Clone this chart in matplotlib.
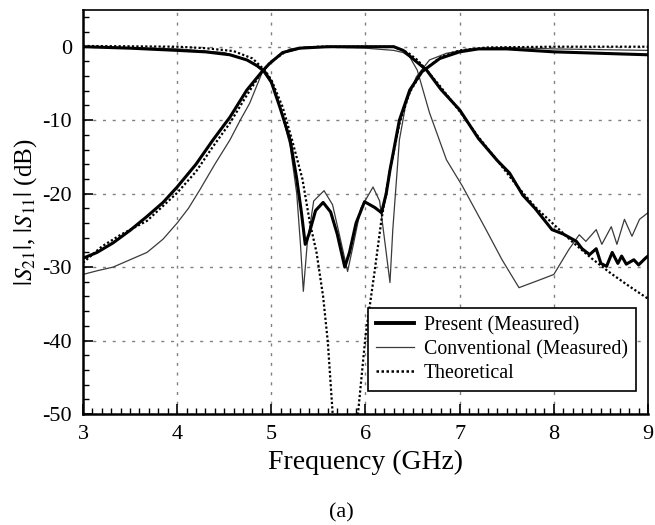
import matplotlib
matplotlib.use('Agg')
import matplotlib.pyplot as plt
from matplotlib.ticker import MultipleLocator
from matplotlib.lines import Line2D

plt.rcParams['font.family'] = ['Liberation Serif', 'DejaVu Serif']
plt.rcParams['mathtext.fontset'] = 'stix'
plt.rcParams['axes.unicode_minus'] = False

# |S21| present (measured)
pres_s21_f = [3.0, 3.15, 3.32, 3.5, 3.68, 3.85, 4.0, 4.2, 4.38, 4.56, 4.74, 4.9, 4.98, 5.12, 5.3,
              5.6, 6.0, 6.3, 6.4, 6.5, 6.65, 6.8, 7.0, 7.2, 7.4, 7.53, 7.67, 7.8, 7.98, 8.1,
              8.24, 8.3, 8.38, 8.45, 8.5, 8.56, 8.62, 8.68, 8.72, 8.77, 8.85, 8.9, 8.98, 9.0]
pres_s21_db = [-28.8, -28.0, -26.7, -25.0, -23.1, -21.2, -19.1, -16.0, -12.7, -9.6, -5.9, -3.4, -2.3, -0.8, -0.2,
               0.0, 0.0, 0.0, -0.5, -1.6, -3.2, -5.8, -8.6, -12.5, -15.5, -17.2, -20.2, -22.0, -24.9, -25.5,
               -26.5, -27.5, -28.3, -27.5, -29.5, -29.9, -28.0, -29.5, -28.5, -29.6, -29.0, -29.7, -28.7, -28.5]

# |S11| present (measured)
pres_s11_f = [3.0, 3.5, 4.0, 4.3, 4.56, 4.74, 4.85, 4.93, 5.0, 5.09, 5.2, 5.27, 5.32, 5.36, 5.4,
              5.47, 5.55, 5.63, 5.7, 5.78, 5.83, 5.9, 5.99, 6.1, 6.17, 6.22, 6.26, 6.36, 6.47, 6.6,
              6.79, 7.0, 7.2, 7.5, 8.0, 8.5, 9.0]
pres_s11_db = [0.0, -0.2, -0.5, -0.7, -1.1, -1.8, -2.6, -3.4, -4.8, -8.2, -12.7, -18.0, -22.6, -26.9, -25.5,
               -22.3, -21.2, -22.5, -25.5, -30.0, -28.0, -24.0, -21.1, -21.9, -22.6, -20.0, -16.8, -10.0, -5.9, -3.4,
               -1.6, -0.7, -0.3, -0.3, -0.7, -0.9, -1.1]

# |S21| conventional (measured)
conv_s21_f = [3.0, 3.15, 3.32, 3.5, 3.68, 3.85, 4.0, 4.12, 4.24, 4.4, 4.56, 4.67, 4.77, 4.9, 5.0,
              5.1, 5.2, 5.4, 6.0, 6.3, 6.4, 6.47, 6.55, 6.68, 6.86, 7.03, 7.28, 7.45, 7.63, 7.9,
              8.0, 8.16, 8.27, 8.34, 8.45, 8.51, 8.61, 8.67, 8.75, 8.83, 8.91, 9.0]
conv_s21_db = [-31.0, -30.5, -30.0, -29.0, -28.0, -26.2, -24.0, -22.0, -19.5, -16.0, -12.7, -10.0, -7.7, -3.6, -2.0,
               -1.0, -0.3, 0.0, -0.2, -0.5, -0.8, -1.4, -3.2, -9.0, -15.4, -19.0, -24.9, -29.0, -32.8, -31.5,
               -31.0, -27.6, -25.6, -26.5, -24.9, -26.9, -24.5, -26.9, -23.5, -25.8, -23.5, -22.6]

# |S11| conventional (measured)
conv_s11_f = [3.0, 4.0, 4.5, 4.75, 4.9, 5.0, 5.1, 5.2, 5.27, 5.31, 5.34, 5.38, 5.45, 5.56, 5.65,
              5.73, 5.81, 5.87, 5.95, 6.08, 6.15, 6.2, 6.26, 6.29, 6.36, 6.43, 6.54, 6.68, 6.86, 7.1,
              7.5, 8.0, 9.0]
conv_s11_db = [0.0, -0.3, -0.8, -1.8, -3.2, -5.0, -8.5, -13.5, -20.0, -27.0, -33.3, -27.0, -21.0, -19.6, -21.5,
               -26.0, -30.6, -27.0, -22.0, -19.1, -21.0, -26.0, -32.1, -24.9, -12.7, -7.7, -4.1, -1.8, -0.9, -0.3,
               -0.1, -0.3, -0.5]

# |S21| theoretical
theo_s21_f = [3.0, 3.2, 3.4, 3.68, 4.0, 4.2, 4.38, 4.56, 4.74, 4.9, 5.0, 5.15, 5.3, 5.5, 6.3,
              6.45, 6.55, 6.65, 6.8, 7.0, 7.2, 7.4, 7.6, 7.8, 8.0, 8.2, 8.4, 8.6, 8.8, 9.0]
theo_s21_db = [-29.4, -27.2, -25.6, -23.7, -19.9, -17.0, -13.6, -10.4, -6.6, -3.4, -2.0, -0.7, -0.2, 0.0, 0.0,
               -0.8, -1.8, -3.2, -5.5, -8.8, -12.3, -15.5, -18.8, -21.8, -24.2, -26.6, -28.8, -30.8, -32.6, -34.3]

# |S11| theoretical
theo_s11_f = [3.0, 4.0, 4.3, 4.6, 4.8, 4.93, 5.0, 5.12, 5.22, 5.33, 5.41, 5.48, 5.55, 5.6, 5.65,
              5.67, 5.9, 5.92, 6.0, 6.1, 6.17, 6.26, 6.36, 6.47, 6.6, 6.8, 7.0, 7.3, 8.0, 9.0]
theo_s11_db = [0.1, 0.0, -0.2, -0.6, -1.6, -3.2, -4.5, -8.2, -12.7, -18.0, -24.0, -28.0, -34.0, -40.2, -49.7,
               -55.0, -55.0, -50.0, -39.4, -30.3, -23.5, -16.8, -10.5, -6.2, -3.4, -1.4, -0.5, -0.1, 0.0, 0.0]

legend_labels = ['Present (Measured)', 'Conventional (Measured)', 'Theoretical']

fig = plt.figure(figsize=(6.55, 5.25), dpi=100)
ax = fig.add_axes([0.1267, 0.2114, 0.8626, 0.7696])

thin_col = '#3a3a3a'
ax.plot(conv_s21_f, conv_s21_db, color=thin_col, lw=0.9)
ax.plot(conv_s11_f, conv_s11_db, color=thin_col, lw=0.9)
ax.plot(theo_s21_f, theo_s21_db, color='black', lw=1.6, ls=(0, (1, 1)))
ax.plot(theo_s11_f, theo_s11_db, color='black', lw=1.6, ls=(0, (1, 1)))
ax.plot(pres_s21_f, pres_s21_db, color='black', lw=2.2)
ax.plot(pres_s11_f, pres_s11_db, color='black', lw=2.2)

ax.set_xlim(3, 9)
ax.set_ylim(-50, 5)
ax.xaxis.set_major_locator(MultipleLocator(1))
ax.xaxis.set_minor_locator(MultipleLocator(0.1))
ax.yaxis.set_major_locator(MultipleLocator(10))
ax.yaxis.set_minor_locator(MultipleLocator(2))
ax.tick_params(which='both', direction='in', labelsize=16, colors='black')
ax.tick_params(which='major', length=7, width=1.2, pad=8)
ax.tick_params(which='minor', length=4, width=1.0)
ax.grid(True, which='major', color='#808080', lw=1.0, ls=(0, (2.2, 4.8)))

ax.spines['left'].set_linewidth(1.8)
ax.spines['bottom'].set_linewidth(1.8)
ax.spines['top'].set_linewidth(1.2)
ax.spines['right'].set_linewidth(1.2)

ax.set_xlabel('Frequency (GHz)', fontsize=20, labelpad=4)
ax.set_ylabel(r'$|S_{21}|$, $|S_{11}|$ (dB)', fontsize=18, labelpad=2)

handles = [Line2D([], [], color='black', lw=2.8),
           Line2D([], [], color=thin_col, lw=0.9),
           Line2D([], [], color='black', lw=1.8, ls=(0, (1, 1)))]
leg = ax.legend(handles, legend_labels, loc='lower right', bbox_to_anchor=(0.996, 0.032),
                fontsize=14.3, frameon=True, fancybox=False, framealpha=1, edgecolor='black',
                handlelength=1.9, handletextpad=0.5, borderpad=0.4, labelspacing=0.25)
leg.get_frame().set_linewidth(1.2)

fig.text(0.521, 0.024, '(a)', fontsize=16, ha='center', va='center')

fig.savefig('out.png', dpi=100)
